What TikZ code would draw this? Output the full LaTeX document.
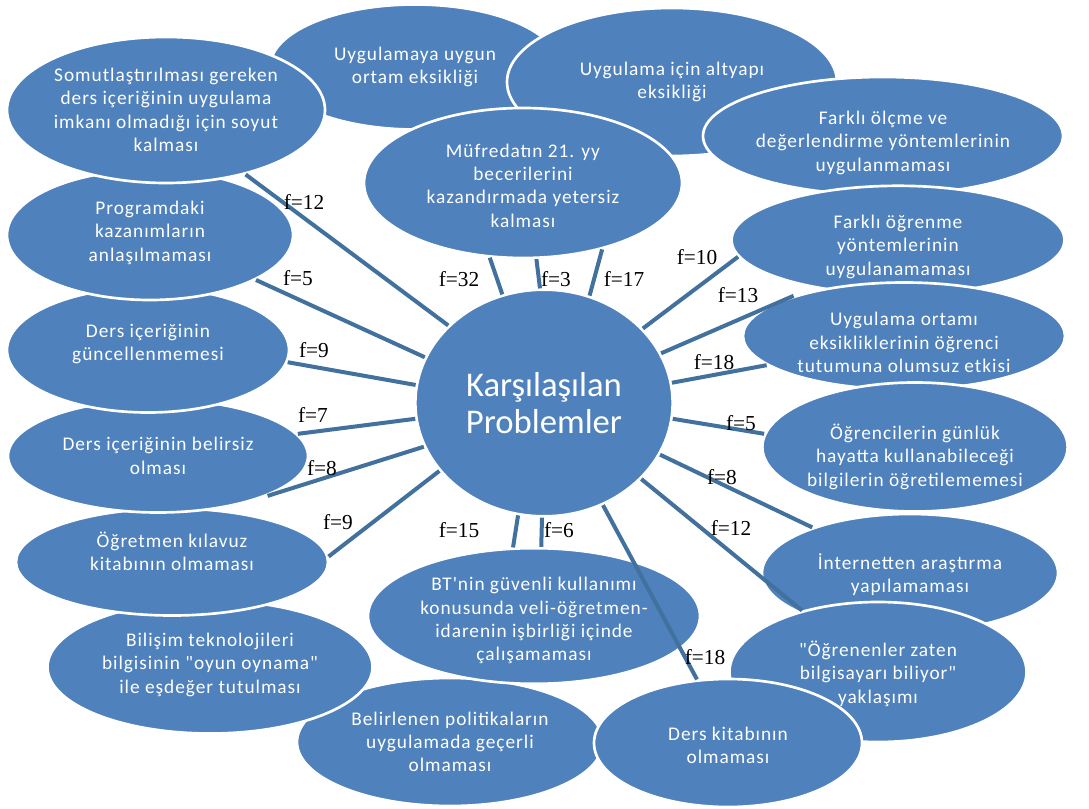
\documentclass[tikz,border=0pt]{standalone}
\usepackage{fontspec}
\setmainfont{Carlito}
\newfontfamily\bubblefont{Carlito}[LetterSpace=5,Ligatures=TeXOff]
\newfontfamily\freqfont{Liberation Serif}
\usetikzlibrary{shapes.geometric}

\definecolor{bubbleblue}{HTML}{4F81BD}
\definecolor{linkblue}{HTML}{41719C}

\tikzset{
  bubble/.style 2 args={ellipse, fill=bubbleblue, draw=white, line width=2pt,
    minimum width=#1*0.75pt, minimum height=#2*0.75pt, inner sep=0pt,
    text=white, align=center, font=\bubblefont\fontsize{14.5}{17.5}\selectfont},
  hub/.style={ellipse, fill=bubbleblue, draw=white, line width=2pt,
    minimum width=193pt, minimum height=170pt, inner sep=0pt,
    text=white, align=center, font=\fontsize{26}{28}\selectfont},
  link/.style={draw=linkblue, line width=3pt},
  freq/.style={font=\freqfont\fontsize{16}{16}\selectfont, inner sep=0pt}
}

\begin{document}
\begin{tikzpicture}[x=0.75pt,y=-0.75pt]
          \fill[white] (0,0) rectangle (1089,809);
          \useasboundingbox (0,0) rectangle (1089,809);
          % top row
          \node[bubble={290}{125}] (uygun) at (415,67) {Uygulamaya uygun\\ortam eksikliği};
          \node[bubble={330}{148}] (altyapi) at (672,82) {Uygulama için altyapı\\eksikliği};
          \node[bubble={318}{150}, text height=66.5pt] (mufredat) at (523,183) {Müfredatın 21. yy\\becerilerini\\kazandırmada yetersiz\\kalması};
          % right column
          \node[bubble={360}{118}, text height=55pt] (olcme) at (883,136) {Farklı ölçme ve\\değerlendirme yöntemlerinin\\uygulanmaması};
          \node[bubble={333}{106}, text height=55pt] (ogrenme) at (898,240) {Farklı öğrenme\\yöntemlerinin\\uygulanamaması};
          \node[bubble={322}{107}, text height=55pt] (ortam) at (904,336) {Uygulama ortamı\\eksikliklerinin öğrenci\\tutumuna olumsuz etkisi};
          \node[bubble={286}{129}, text height=61pt] (gunluk) at (915,447) {Öğrencilerin günlük\\hayatta kullanabileceği\\bilgilerin öğretilememesi};
          \node[bubble={296}{118}, text height=31.5pt] (internet) at (910,573) {İnternetten araştırma\\yapılamaması};
          \node[bubble={297}{140}, text height=49pt] (biliyor) at (878,672) {"Öğrenenler zaten\\bilgisayarı biliyor"\\yaklaşımı};
          % bottom row
          \node[bubble={306}{128}] (politika) at (450,742) {Belirlenen politikaların\\uygulamada geçerli\\olmaması};
          \node[bubble={268}{128}, text height=31.5pt] (kitap) at (728,743) {Ders kitabının\\olmaması};
          \node[bubble={332}{133}, text height=69.5pt] (bt) at (534,616) {BT'nin güvenli kullanımı\\konusunda veli-öğretmen-\\idarenin işbirliği içinde\\çalışamaması};
          % left column
          \node[bubble={325}{133}, text height=41.5pt] (bilisim) at (210,667) {Bilişim teknolojileri\\bilgisinin "oyun oynama"\\ile eşdeğer tutulması};
          \node[bubble={312}{107}, text height=13.5pt] (kilavuz) at (172,562) {Öğretmen kılavuz\\kitabının olmaması};
          \node[bubble={300}{113}] (belirsiz) at (158,456) {Ders içeriğinin belirsiz\\olması};
          \node[bubble={282}{125}, text height=18pt] (guncel) at (148,350) {Ders içeriğinin\\güncellenmemesi};
          \node[bubble={286}{130}, text height=41.5pt] (kazanim) at (150,235) {Programdaki\\kazanımların\\anlaşılmaması};
          \node[bubble={318}{146}] (soyut) at (166,110) {Somutlaştırılması gereken\\ders içeriğinin uygulama\\imkanı olmadığı için soyut\\kalması};
          % centre
          \node[hub] (problem) at (544,403) {Karşılaşılan\\Problemler};
          % eighteen lines
          \draw[link] (problem.141) -- (soyut.-39);
          \draw[link] (problem.159) -- (kazanim.-23);
          \draw[link] (problem.172) -- (guncel.-5);
          \draw[link] (problem.187) -- (belirsiz.9);
          \draw[link] (problem.200) -- (belirsiz.-20);
          \draw[link] (problem.213) -- (kilavuz.2);
          \draw[link] (problem.111) -- (mufredat.-114);
          \draw[link] (problem.92) -- (mufredat.-80);
          \draw[link] (problem.67) -- (mufredat.-40);
          \draw[link] (problem.37) -- (ogrenme.186);
          \draw[link] (problem.23) -- (ortam.160);
          \draw[link] (problem.9) -- (ortam.192);
          \draw[link] (problem.-7) -- (gunluk.175);
          \draw[link] (problem.-24) -- (internet.155);
          \draw[link] (problem.-38) -- (biliyor.141);
          \draw[link] (problem.-60) -- (kitap.116);
          \draw[link] (problem.-91) -- (bt.84);
          \draw[link] (problem.-103) -- (bt.107);
          % frequencies
          \node[freq] (f1) at (304,202) {f=12};
          \node[freq] (f2) at (298,278) {f=5};
          \node[freq] (f3) at (314,350) {f=9};
          \node[freq] (f4) at (313,415) {f=7};
          \node[freq] (f5) at (322,468) {f=8};
          \node[freq] (f6) at (338,522) {f=9};
          \node[freq] (f7) at (459,279) {f=32};
          \node[freq] (f8) at (556,279) {f=3};
          \node[freq] (f9) at (624,279) {f=17};
          \node[freq] (f10) at (697,257) {f=10};
          \node[freq] (f11) at (738,295) {f=13};
          \node[freq] (f12) at (714,362) {f=18};
          \node[freq] (f13) at (741,423) {f=5};
          \node[freq] (f14) at (722,477) {f=8};
          \node[freq] (f15) at (731,528) {f=12};
          \node[freq] (f16) at (705,657) {f=18};
          \node[freq] (f17) at (559,530) {f=6};
          \node[freq] (f18) at (459,530) {f=15};
        \end{tikzpicture}
\end{document}
